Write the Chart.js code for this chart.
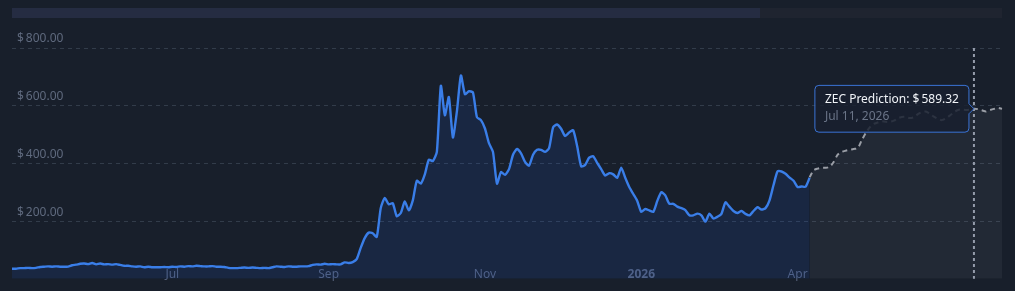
<!DOCTYPE html>
<html>
<head>
<meta charset="utf-8">
<script src="https://cdn.jsdelivr.net/npm/chart.js@4.4.1/dist/chart.umd.min.js"></script>
<style>
  html, body { margin: 0; padding: 0; background: #181f2b; }
  #wrap { position: relative; width: 1015px; height: 291px; overflow: hidden; }
  #wrap canvas { position: absolute; left: 0; top: 0; }
  .nav { position: absolute; top: 8px; height: 10px; }
  #navSel { left: 12px; width: 748px; background: #252c42; }
  #navRest { left: 760px; width: 242px; background: #1f2430; }
</style>
</head>
<body>
<div id="wrap">
  <canvas id="zecChart" width="1015" height="291"></canvas>
  <div class="nav" id="navSel"></div>
  <div class="nav" id="navRest"></div>
</div>
<script>
// ZEC price history + prediction

// historical price, one value per step (index 0..199)
const priceHist = [
    35, 35, 37, 37, 38, 37, 38, 41, 42, 43,
    42, 43, 42, 42, 42, 47, 49, 52, 53, 51,
    55, 50, 53, 50, 51, 49, 51, 48, 45, 45,
    43, 42, 43, 40, 42, 40, 40, 40, 41, 40,
    42, 41, 43, 42, 44, 43, 45, 44, 43, 43,
    44, 42, 42, 41, 38, 37, 37, 38, 39, 38,
    39, 38, 37, 38, 37, 40, 43, 42, 41, 43,
    42, 42, 43, 43, 44, 48, 50, 49, 52, 50,
    51, 50, 50, 57, 55, 58, 68, 107, 141, 160,
    158, 145, 245, 280, 258, 262, 217, 228, 268, 237,
    272, 340, 330, 362, 413, 408, 440, 669, 567, 630,
    490, 580, 705, 640, 650, 646, 560, 550, 521, 470,
    440, 330, 370, 360, 380, 430, 450, 435, 405, 392,
    430, 447, 447, 440, 453, 525, 535, 520, 495, 507,
    515, 460, 390, 395, 420, 425, 402, 380, 358, 366,
    362, 350, 385, 350, 318, 294, 270, 232, 242, 237,
    232, 270, 300, 289, 260, 260, 250, 245, 238, 220,
    220, 226, 220, 198, 226, 209, 215, 225, 265, 250,
    235, 228, 235, 225, 220, 235, 248, 240, 245, 272,
    325, 372, 372, 364, 351, 340, 318, 320, 319, 350
];

// predicted price, starts where history ends (index 199..247)
const pricePred = [
    352,
    376, 382, 385, 385, 388, 405, 430, 440, 444, 447,
    450, 453, 480, 505, 525, 537, 542, 546, 544, 544,
    548, 556, 561, 561, 557, 560, 571, 578, 580, 572,
    562, 554, 550, 556, 566, 577, 585, 587, 585, 586,
    589.32, 588, 584, 580, 585, 589, 592, 589
];

// x tick labels and the step they sit on
const tickIdx = [40, 79, 118, 157, 196];
const tickText = ['Jul', 'Sep', 'Nov', '2026', 'Apr'];

// y ticks
const yMin = 0;
const yMax = 800;
const yStep = 200;

// hovered prediction point
const hoverIdx = 240;
const hoverDate = 'Jul 11, 2026';

const predStart = priceHist.length - 1;
const totalSteps = predStart + pricePred.length;

const labels = [];
for (let i = 0; i < totalSteps; i++) {
    const t = tickIdx.indexOf(i);
    labels.push(t >= 0 ? tickText[t] : '');
}
const predData = new Array(predStart).fill(null).concat(pricePred);

function fmtUsd(v) {
    return '$\u2009' + Number(v).toFixed(2);
}

Chart.defaults.font.family = "'Noto Sans', sans-serif";
Chart.defaults.font.size = 12;

// dotted vertical line at the hovered point
const crosshair = {
    id: 'crosshair',
    afterDatasetsDraw(chart) {
        const active = chart.tooltip && chart.tooltip.getActiveElements();
        if (!active || !active.length) return;
        const x = active[0].element.x;
        const { top, bottom } = chart.chartArea;
        const ctx = chart.ctx;
        ctx.save();
        ctx.strokeStyle = '#959cab';
        ctx.lineWidth = 2;
        ctx.setLineDash([3, 3]);
        ctx.beginPath();
        ctx.moveTo(x, top);
        ctx.lineTo(x, bottom);
        ctx.stroke();
        ctx.restore();
    }
};

const ctx = document.getElementById('zecChart').getContext('2d');
const chart = new Chart(ctx, {
    type: 'line',
    data: {
        labels: labels,
        datasets: [
            {
                label: 'ZEC Price',
                data: priceHist,
                borderColor: '#3a7ee8',
                borderWidth: 2.4,
                backgroundColor: 'rgba(37, 99, 235, 0.12)',
                fill: 'origin',
                pointRadius: 0,
                pointHoverRadius: 0,
                tension: 0.2
            },
            {
                label: 'ZEC Prediction',
                data: predData,
                borderColor: '#9a9ea6',
                borderWidth: 2,
                borderDash: [5, 4],
                backgroundColor: 'rgba(200, 205, 215, 0.06)',
                fill: 'origin',
                pointRadius: 0,
                pointHoverRadius: 0,
                tension: 0.25
            }
        ]
    },
    options: {
        responsive: false,
        animation: false,
        events: [],
        layout: {
            padding: { left: 12, right: 13, top: 48, bottom: 8 }
        },
        plugins: {
            legend: { display: false },
            tooltip: {
                enabled: true,
                xAlign: 'right',
                yAlign: 'center',
                backgroundColor: 'rgba(25, 32, 47, 0.85)',
                borderColor: '#3b74d6',
                borderWidth: 1,
                cornerRadius: 4,
                caretSize: 5,
                caretPadding: 0,
                padding: { left: 10, right: 10, top: 7, bottom: 8 },
                displayColors: false,
                titleColor: '#f1f4f8',
                titleFont: { size: 12, weight: 'normal' },
                titleMarginBottom: 3,
                bodyColor: '#6b7588',
                bodyFont: { size: 12 },
                callbacks: {
                    title: items => items[0].dataset.label + ': ' + fmtUsd(items[0].parsed.y),
                    label: () => hoverDate
                }
            }
        },
        scales: {
            x: {
                type: 'category',
                grid: { display: false, drawTicks: false },
                border: { display: false },
                afterFit: scale => { scale.height = 0; },
                ticks: {
                    autoSkip: false,
                    maxRotation: 0,
                    mirror: true,
                    padding: -3,
                    color: '#55617a',
                    font: c => ({
                        size: 12,
                        weight: c.tick && c.tick.label === '2026' ? 'bold' : 'normal'
                    })
                }
            },
            y: {
                min: yMin,
                max: yMax,
                afterFit: scale => { scale.width = 0; },
                grid: {
                    drawTicks: false,
                    color: c => c.tick.value === 0 ? 'rgba(0,0,0,0)' : '#323c4a',
                    lineWidth: 1
                },
                border: { display: false, dash: [4, 4] },
                ticks: {
                    stepSize: yStep,
                    mirror: true,
                    padding: 5,
                    labelOffset: -9,
                    color: '#5f6a7e',
                    font: { size: 12 },
                    callback: v => v === 0 ? '' : fmtUsd(v)
                }
            }
        }
    },
    plugins: [crosshair]
});

// show the tooltip on the hovered prediction point
const hoverPt = chart.getDatasetMeta(1).data[hoverIdx];
chart.tooltip.setActiveElements([{ datasetIndex: 1, index: hoverIdx }], { x: hoverPt.x, y: hoverPt.y });
chart.update();
</script>
</body>
</html>
